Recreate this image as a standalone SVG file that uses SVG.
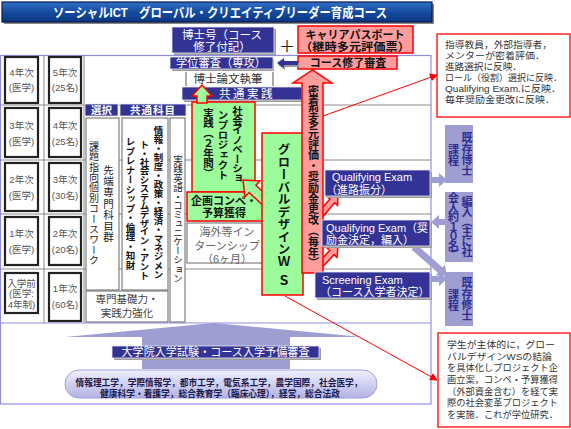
<svg xmlns="http://www.w3.org/2000/svg" width="571" height="429" viewBox="0 0 571 429">
<defs>
<linearGradient id="tg" x1="0" y1="0" x2="0" y2="1"><stop offset="0" stop-color="#3170c8"/><stop offset="0.5" stop-color="#154c9f"/><stop offset="1" stop-color="#0b3682"/></linearGradient>
<linearGradient id="pg" x1="0" y1="0" x2="0" y2="1"><stop offset="0" stop-color="#f0f0ff"/><stop offset="1" stop-color="#b2b2e4"/></linearGradient>
<marker id="ra" markerWidth="8" markerHeight="8" refX="7" refY="4" orient="auto" markerUnits="userSpaceOnUse"><path d="M0,0 L8,4 L0,8 z" fill="#ff0000"/></marker>
<style>
text{font-family:"Liberation Sans","Noto Sans CJK JP",sans-serif}
.c{text-anchor:middle;dominant-baseline:central}
.l{dominant-baseline:central}
.v{writing-mode:vertical-rl}
.yb{fill:#fff;stroke:#222;stroke-width:2.2}
.yt{font-size:9.5px;fill:#555}
.nv{fill:#333395;stroke:#e8e8f4;stroke-width:0.8}
.sh{fill:#9c9c9c}
.wt{fill:#fff}
.pk{fill:#ff9c9c;stroke:#ff0000;stroke-width:1.5}
.gr{fill:#9cfc9c;stroke:#ff0000;stroke-width:1.5}
.wb{fill:#fff;stroke:#666;stroke-width:1}
.lv{fill:#9e9ed2}
.lt{fill:#2e2e90;font-weight:bold;font-size:11px}
.gl{stroke:#8a8a8a;stroke-width:1}
.co{fill:#fff;stroke:#ff0000;stroke-width:1.3}
.ct{font-size:9.3px;fill:#333}
.rl{stroke:#ff0000;stroke-width:1;fill:none;marker-end:url(#ra)}
.b{font-weight:bold}
</style>
</defs>
<rect width="571" height="429" fill="#fff"/>

<g id="title">
<rect x="4" y="4" width="430" height="20" fill="#888"/>
<rect x="2" y="2" width="430" height="20" fill="url(#tg)" stroke="#0a1a4a" stroke-width="1.2"/>
<text class="l b" x="53" y="12.5" font-size="13" fill="#fff" textLength="334" lengthAdjust="spacingAndGlyphs">ソーシャルICT　グローバル・クリエイティブリーダー育成コース</text>
</g>

<g id="frame">
<rect x="0.5" y="55.5" width="430.5" height="348.5" fill="none" stroke="#8e8ee2" stroke-width="1.2"/>
<line class="gl" x1="0" y1="105" x2="431" y2="105"/>
<line class="gl" x1="0" y1="160" x2="431" y2="160"/>
<line class="gl" x1="0" y1="214" x2="431" y2="214"/>
<line class="gl" x1="0" y1="269" x2="431" y2="269"/>
<line class="gl" x1="44" y1="55" x2="44" y2="323"/>
<line class="gl" x1="84" y1="55" x2="84" y2="323"/>
<line x1="0" y1="323" x2="431" y2="323" stroke="#8e8ee2" stroke-width="1.2"/>
</g>

<g id="years">
<rect class="yb" x="5" y="57" width="33" height="46"/><rect class="yb" x="49" y="57" width="32" height="46"/>
<text class="c yt" x="21.5" y="72">4年次</text><text class="c yt" x="21.5" y="87">(医学)</text>
<text class="c yt" x="65" y="72">5年次</text><text class="c yt" x="65" y="87">(25名)</text>
<rect class="yb" x="5" y="108" width="33" height="49"/><rect class="yb" x="49" y="108" width="32" height="49"/>
<text class="c yt" x="21.5" y="125">3年次</text><text class="c yt" x="21.5" y="141">(医学)</text>
<text class="c yt" x="65" y="125">4年次</text><text class="c yt" x="65" y="141">(25名)</text>
<rect class="yb" x="5" y="163" width="33" height="48"/><rect class="yb" x="49" y="163" width="32" height="48"/>
<text class="c yt" x="21.5" y="179">2年次</text><text class="c yt" x="21.5" y="195">(医学)</text>
<text class="c yt" x="65" y="179">3年次</text><text class="c yt" x="65" y="195">(30名)</text>
<rect class="yb" x="5" y="217" width="33" height="48"/><rect class="yb" x="49" y="217" width="32" height="48"/>
<text class="c yt" x="21.5" y="233">1年次</text><text class="c yt" x="21.5" y="249">(医学)</text>
<text class="c yt" x="65" y="233">2年次</text><text class="c yt" x="65" y="249">(20名)</text>
<rect class="yb" x="5" y="273" width="33" height="40"/><rect class="yb" x="49" y="273" width="32" height="48"/>
<text class="c yt" x="21.5" y="283">入学前</text><text class="c yt" x="21.5" y="293.5">(医学:</text><text class="c yt" x="21.5" y="304">4年制)</text>
<text class="c yt" x="65" y="288">1年次</text><text class="c yt" x="65" y="304">(60名)</text>
</g>

<g id="courses">
<rect class="nv" x="85" y="104" width="33" height="12"/>
<text class="c wt b" x="101.5" y="110" font-size="10.5">選択</text>
<rect class="nv" x="120" y="104" width="66" height="12"/>
<text class="c wt b" x="153" y="110" font-size="10.5" letter-spacing="1">共通科目</text>
<rect class="wb" x="86" y="118" width="33" height="172"/>
<text class="v" x="93" y="141" font-size="10" letter-spacing="0.4" fill="#222">課題指向個別コースワーク</text>
<text class="v" x="108" y="165" font-size="10.5" letter-spacing="0.6" fill="#222">先端専門科目群</text>
<rect class="wb" x="122" y="118" width="46" height="172"/>
<text class="v b" x="158" y="126" font-size="9.5" letter-spacing="-0.5" fill="#111">情報・制度・政策・経済・マネジメン</text>
<text class="v b" x="144" y="140" font-size="9.5" letter-spacing="-0.8" fill="#111">ト・社会システムデザイン・アント</text>
<text class="v b" x="130" y="137" font-size="9.5" fill="#111">レプレナーシップ・倫理・知財</text>
<rect class="wb" x="170" y="118" width="15" height="204"/>
<text class="v" x="177.5" y="155" font-size="9.5" letter-spacing="-0.4" fill="#222">実践英語・コミュニケーション</text>
<rect class="wb" x="86" y="291" width="82" height="31"/>
<text class="c" x="127" y="299" font-size="10.5" fill="#444">専門基礎力・</text>
<text class="c" x="127" y="313" font-size="10.5" fill="#444">実践力強化</text>
</g>

<g id="degree">
<rect class="sh" x="174" y="29" width="102" height="26"/>
<rect class="nv" x="172" y="27" width="102" height="26"/>
<text class="c wt" x="222" y="35" font-size="11.5">博士号（コース</text>
<text class="c wt" x="222" y="47" font-size="11.5">修了付記）</text>
<text class="c" x="287" y="46" font-size="16" fill="#222">＋</text>
<rect class="sh" x="172" y="59" width="102" height="12"/>
<rect class="nv" x="170" y="57" width="103" height="12"/>
<text class="c wt" x="221" y="63" font-size="11.5" textLength="90" lengthAdjust="spacingAndGlyphs">学位審査（専攻）</text>
<line x1="186" y1="72" x2="186" y2="86" stroke="#555"/>
<line x1="273" y1="72" x2="273" y2="86" stroke="#555"/>
<text class="c" x="228" y="79" font-size="11.5" fill="#333">博士論文執筆</text>
<rect class="sh" x="184" y="89" width="120" height="13"/>
<rect class="nv" x="182" y="87" width="120" height="13"/>
<text class="c wt" x="247" y="93.5" font-size="11.5" letter-spacing="2.5">共通実践</text>
</g>

<g id="career">
<rect class="pk" x="298" y="26" width="115" height="27"/>
<text class="c b" x="355" y="35" font-size="11" fill="#111">キャリアパスポート</text>
<text class="c b" x="355" y="47" font-size="11" fill="#111" textLength="110" lengthAdjust="spacingAndGlyphs">（継時多元評価票）</text>
<rect class="pk" x="298" y="56" width="99" height="13"/>
<text class="c b" x="348" y="62.5" font-size="11" fill="#111">コース修了審査</text>
</g>

<g id="connectors">
<polygon points="278,65 285,60 285,63 299,63 299,67 285,67 285,70" fill="#999"/>
<polygon points="277,63 284,58 284,61 298,61 298,65 284,65 284,68" fill="#333395"/>
<polygon class="pk" transform="translate(338,194) rotate(-50)" points="0,0 -9,-7 -9,-3 -26,-3 -26,3 -9,3 -9,7"/>
<polygon class="pk" transform="translate(338,246) rotate(-47)" points="0,0 -9,-7 -9,-3 -26,-3 -26,3 -9,3 -9,7"/>
<polygon class="lv" points="430,177 439,177 439,173 447,180 439,187 439,183 430,183"/>
<polygon class="lv" points="446,219 439,219 439,215 431,222 439,229 439,225 446,225"/>
<polygon class="lv" points="430,276 439,276 439,272 447,279 439,286 439,282 430,282"/>
<polygon class="lv" transform="translate(447,276) rotate(41.3)" points="0,0 -9,-7 -9,-3.5 -44,-3.5 -44,3.5 -9,3.5 -9,7"/>
</g>

<g id="social">
<rect class="gr" x="192" y="102" width="63" height="90"/>
<text class="v b" x="237" y="144" text-anchor="middle" font-size="10.5" letter-spacing="-1" fill="#111">社会イノベーショ</text>
<text class="v b" x="222.5" y="145" text-anchor="middle" font-size="10.5" letter-spacing="-0.5" fill="#111">ンプロジェクト</text>
<text class="v b" x="208" y="143" text-anchor="middle" font-size="10.5" letter-spacing="-0.5" fill="#111">実践（２年間）</text>
<polygon class="gr" transform="translate(202,85) rotate(-90)" points="0,0 -11,-10 -11,-5 -18,-5 -18,5 -11,5 -11,10"/>
</g>

<g id="contest">
<rect class="gr" x="187" y="192" width="78" height="29"/>
<text class="c b" x="224" y="201" font-size="11" fill="#111">企画コンペ・</text>
<text class="c b" x="224" y="213" font-size="11" fill="#111">予算獲得</text>
</g>

<g id="intern">
<rect class="wb" x="187" y="223" width="78" height="40"/>
<text class="c" x="227" y="232" font-size="11" fill="#666">海外等イン</text>
<text class="c" x="227" y="246" font-size="11" fill="#666">ターンシップ</text>
<text class="c" x="227" y="259" font-size="11" fill="#666">（6ヶ月）</text>
</g>

<polygon class="gr" transform="translate(243,180) rotate(-137)" points="0,0 -13,-11 -13,-5 -42,-5 -42,5 -13,5 -13,11"/>

<g id="ws">
<rect class="gr" x="262" y="133" width="41" height="162"/>
<text class="v b" x="282.5" y="143" font-size="12.5" fill="#111">グローバルデザインＷ<tspan dy="6">Ｓ</tspan></text>
</g>

<g id="evaluation">
<polygon class="pk" points="302,273 302,83 293,83 312.5,70 332,83 323,83 323,273"/>
<text class="v b" x="312.5" y="85" font-size="11" letter-spacing="-0.2" fill="#111">密着型多元評価・奨励金更改（毎年）</text>
</g>

<g id="qe1">
<rect class="sh" x="327" y="172" width="105" height="26"/>
<rect class="nv" x="325" y="170" width="105" height="26"/>
<text class="l wt" x="332" y="177" font-size="11">Qualifying Exam</text>
<text class="l wt" x="326" y="190" font-size="11">（進路振分）</text>
</g>
<g id="qe2">
<rect class="sh" x="324" y="222" width="108" height="26"/>
<rect class="nv" x="322" y="220" width="108" height="26"/>
<text class="l wt" x="326" y="228" font-size="11">Qualifying Exam（奨</text>
<text class="l wt" x="326" y="240" font-size="11">励金決定，編入）</text>
</g>
<g id="screening">
<rect class="sh" x="317" y="274" width="115" height="26"/>
<rect class="nv" x="315" y="272" width="115" height="26"/>
<text class="l wt" x="322" y="280" font-size="11">Screening Exam</text>
<text class="l wt" x="320" y="292" font-size="11">（コース入学者決定）</text>
</g>

<g id="phd">
<rect class="lv" x="445" y="125" width="28" height="58"/>
<text class="v lt" x="466" y="154" text-anchor="middle">既存博士</text>
<text class="v lt" x="452.5" y="155" text-anchor="middle">課程</text>
</g>
<g id="transfer">
<rect class="lv" x="445" y="192" width="28" height="70"/>
<text class="v lt" x="466" y="226" text-anchor="middle" letter-spacing="-1">編入（主に社</text>
<text class="v lt" x="452.5" y="226" text-anchor="middle" letter-spacing="-1.5">会人約１０名）</text>
</g>
<g id="master">
<rect class="lv" x="445" y="272" width="28" height="54"/>
<text class="v lt" x="466" y="299" text-anchor="middle">既存修士</text>
<text class="v lt" x="452.5" y="300" text-anchor="middle">課程</text>
</g>

<g id="entrance">
<polygon class="lv" points="65,337 214,323 362,337 290,337 290,369 142,369 142,337"/>
<rect class="sh" x="114" y="348" width="207" height="12"/>
<rect class="nv" x="112" y="346" width="207" height="12"/>
<text class="c wt" x="215.5" y="352" font-size="11.5" textLength="188" lengthAdjust="spacingAndGlyphs">大学院入学試験・コース入学予備審査</text>
<rect x="65" y="370" width="312" height="28" rx="14" fill="url(#pg)" stroke="#a0a0d8" stroke-width="1"/>
<text class="c b" x="219" y="382" font-size="9.5" fill="#1c1c50" textLength="287" lengthAdjust="spacingAndGlyphs">情報理工学，学際情報学，都市工学，電気系工学，農学国際，社会医学，</text>
<text class="c b" x="220" y="393" font-size="9.5" fill="#1c1c50" textLength="240" lengthAdjust="spacingAndGlyphs">健康科学・看護学，総合教育学（臨床心理），経営，総合法政</text>
</g>

<g id="note1">
<rect class="co" x="437" y="34" width="133" height="83"/>
<text class="l ct" x="445" y="45" textLength="107" lengthAdjust="spacingAndGlyphs">指導教員，外部指導者，</text>
<text class="l ct" x="445" y="56" textLength="100" lengthAdjust="spacingAndGlyphs">メンターが密着評価．</text>
<text class="l ct" x="445" y="67" textLength="77" lengthAdjust="spacingAndGlyphs">進路選択に反映．</text>
<text class="l ct" x="445" y="78" textLength="117" lengthAdjust="spacingAndGlyphs">ロール（役割）選択に反映．</text>
<text class="l ct" x="445" y="89" textLength="116" lengthAdjust="spacingAndGlyphs">Qualifying Exam.に反映．</text>
<text class="l ct" x="445" y="100" textLength="110" lengthAdjust="spacingAndGlyphs">毎年奨励金更改に反映．</text>
</g>
<g id="note2">
<rect class="co" x="438" y="333" width="132" height="94"/>
<text class="l ct" x="447" y="345" textLength="108" lengthAdjust="spacingAndGlyphs">学生が主体的に，グロー</text>
<text class="l ct" x="447" y="357" textLength="105" lengthAdjust="spacingAndGlyphs">バルデザインWSの結論</text>
<text class="l ct" x="447" y="368" textLength="111" lengthAdjust="spacingAndGlyphs">を具体化しプロジェクト企</text>
<text class="l ct" x="447" y="380" textLength="111" lengthAdjust="spacingAndGlyphs">画立案，コンペ・予算獲得</text>
<text class="l ct" x="447" y="392" textLength="111" lengthAdjust="spacingAndGlyphs">（外部資金含む）を経て実</text>
<text class="l ct" x="447" y="403" textLength="111" lengthAdjust="spacingAndGlyphs">際の社会変革プロジェクト</text>
<text class="l ct" x="447" y="415" textLength="111" lengthAdjust="spacingAndGlyphs">を実施．これが学位研究．</text>
</g>

<g id="callout-lines">
<line class="rl" x1="323" y1="116" x2="437" y2="75"/>
<line class="rl" x1="285" y1="296" x2="437" y2="380"/>
</g>
</svg>
